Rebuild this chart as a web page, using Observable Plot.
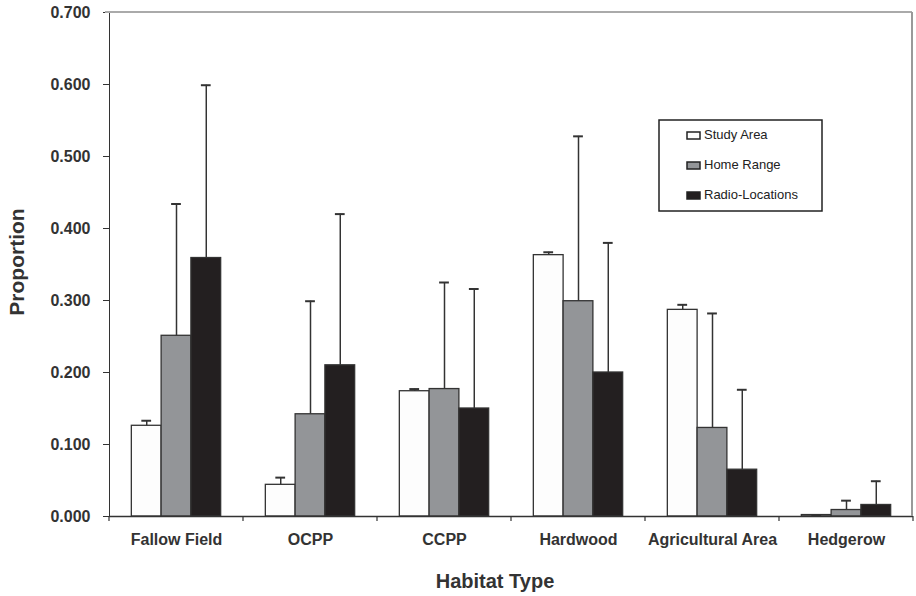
<!DOCTYPE html>
<html><head><meta charset="utf-8">
<script src="https://cdn.jsdelivr.net/npm/d3@7"></script>
<script src="https://cdn.jsdelivr.net/npm/@observablehq/plot@0.6"></script>
<style>
body{margin:0;background:#fff;}
#chart{width:916px;height:596px;}
</style></head><body><div id="chart"></div>
<script>
const habitats = ["Fallow Field","OCPP","CCPP","Hardwood","Agricultural Area","Hedgerow"];
const seriesNames = ["Study Area","Home Range","Radio-Locations"];
const studyArea = [0.126,0.044,0.174,0.363,0.287,0.002];
const studyAreaUpper = [0.133,0.054,0.177,0.367,0.294,0.002];
const homeRange = [0.251,0.142,0.177,0.299,0.123,0.009];
const homeRangeUpper = [0.434,0.299,0.325,0.528,0.282,0.022];
const radioLocations = [0.359,0.210,0.150,0.200,0.065,0.016];
const radioLocationsUpper = [0.599,0.420,0.316,0.380,0.176,0.049];
const yTicks = [0,0.1,0.2,0.3,0.4,0.5,0.6,0.7];
const seriesColors = ["#fdfdfd","#939598","#231f20"];

const values = [studyArea, homeRange, radioLocations];
const uppers = [studyAreaUpper, homeRangeUpper, radioLocationsUpper];
const table = [];
habitats.forEach((h,i)=>seriesNames.forEach((s,j)=>table.push({habitat:h, series:s, value:values[j][i], upper:uppers[j][i]})));

const ink = "#333";
const plot = Plot.plot({
  width:916, height:596,
  marginLeft:107, marginRight:2, marginTop:12, marginBottom:80,
  style:{fontFamily:"'Liberation Sans', Arial, sans-serif", fontSize:"16px", fontWeight:"bold", color:ink, background:"white", overflow:"visible"},
  facet:{data:table, x:"habitat"},
  fx:{domain:habitats, padding:0, label:null, tickSize:0, tickPadding:17, axis:"bottom"},
  x:{domain:seriesNames, paddingInner:0, paddingOuter:0.75, round:false, axis:null},
  y:{domain:[0,0.7], ticks:yTicks, tickFormat:d3.format(".3f"), tickSize:6, tickPadding:13, label:null, line:true},
  color:{domain:seriesNames, range:seriesColors},
  marks:[
    Plot.barY(table,{x:"series", y:"value", fill:"series", stroke:ink, strokeWidth:1.3}),
    Plot.ruleX(table,{x:"series", y1:"value", y2:"upper", stroke:ink, strokeWidth:1.5}),
    Plot.tickY(table,{x:"series", y:"upper", stroke:ink, strokeWidth:2, insetLeft:10, insetRight:10}),
    Plot.ruleY([0],{stroke:ink, strokeWidth:1.5})
  ]
});
document.getElementById("chart").appendChild(plot);

const svg = d3.select(plot);
const fx = plot.scale("fx"), y = plot.scale("y"), color = plot.scale("color");
const x0 = fx.apply(habitats[0]);
const x1 = fx.apply(habitats[habitats.length-1]) + fx.bandwidth;
const edges = habitats.map(h=>fx.apply(h)).concat([x1]);
const y0 = y.apply(0), yTop = y.apply(0.7);

// frame top and right (grey)
svg.append("line").attr("x1",x0-4).attr("x2",x1-1).attr("y1",yTop).attr("y2",yTop).attr("stroke","#aaa").attr("stroke-width",2);
svg.append("line").attr("x1",x1-1).attr("x2",x1-1).attr("y1",yTop).attr("y2",y0).attr("stroke","#999").attr("stroke-width",2);
// category boundary ticks
svg.append("g").selectAll("line").data(edges).join("line")
  .attr("x1",d=>d).attr("x2",d=>d).attr("y1",y0).attr("y2",y0+5).attr("stroke",ink).attr("stroke-width",1.2);

// axis titles
svg.append("text").attr("x",495).attr("y",588).attr("text-anchor","middle")
  .attr("font-size",20).attr("font-weight","bold").attr("fill",ink).text("Habitat Type");
svg.append("text").attr("transform","translate(24,262) rotate(-90)").attr("text-anchor","middle")
  .attr("font-size",21).attr("font-weight","bold").attr("fill",ink).text("Proportion");

// legend
const lg = svg.append("g").attr("text-anchor","start");
lg.append("rect").attr("x",659).attr("y",120).attr("width",163).attr("height",91)
  .attr("fill","white").attr("stroke","#222").attr("stroke-width",1.5);
seriesNames.forEach((s,j)=>{
  const by = 139 + j*30;
  lg.append("rect").attr("x",687).attr("y",by-7).attr("width",13).attr("height",7)
    .attr("fill",color.apply(s)).attr("stroke","#222").attr("stroke-width",1.5);
  lg.append("text").attr("x",704).attr("y",by).attr("text-anchor","start").attr("font-size",13).attr("font-weight","normal")
    .attr("fill","#222").text(s);
});
</script></body></html>
